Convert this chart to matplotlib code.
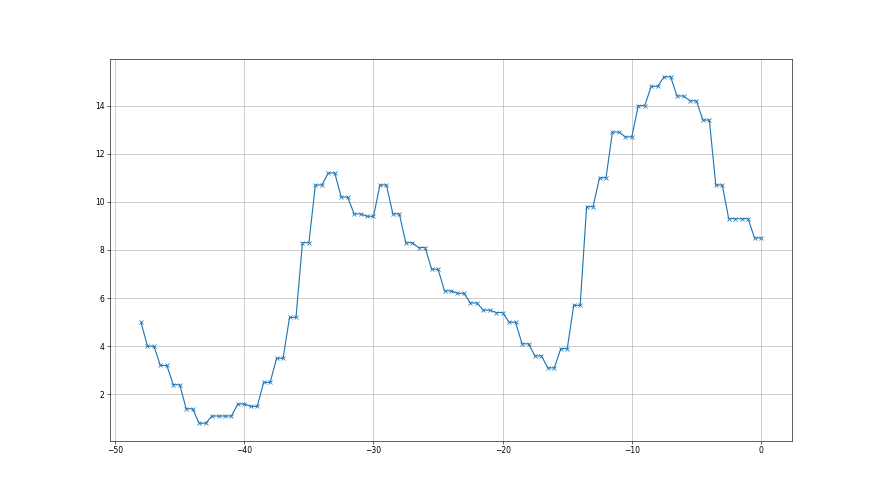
import numpy as np
import matplotlib
matplotlib.use("Agg")
import matplotlib.pyplot as plt

# x runs from -48 to 0 in steps of 0.5
x_start = -48.0
x_step = 0.5

# first sample, then each level is held for two samples
first_value = 5.0
pair_values = [
    4.0, 3.2, 2.4, 1.4, 0.8, 1.1, 1.1, 1.6, 1.5, 2.5,
    3.5, 5.2, 8.3, 10.7, 11.2, 10.2, 9.5, 9.4, 10.7, 9.5,
    8.3, 8.1, 7.2, 6.3, 6.2, 5.8, 5.5, 5.4, 5.0, 4.1,
    3.6, 3.1, 3.9, 5.7, 9.8, 11.0, 12.9, 12.7, 14.0, 14.8,
    15.2, 14.4, 14.2, 13.4, 10.7, 9.3, 9.3, 8.5,
]

y = [first_value]
for v in pair_values:
    y += [v, v]
y = np.array(y)
x = x_start + x_step * np.arange(len(y))

fig, ax = plt.subplots(figsize=(16, 9), dpi=55)
ax.plot(x, y, marker='x')
ax.grid(True)

fig.savefig("out.png", dpi=55)
